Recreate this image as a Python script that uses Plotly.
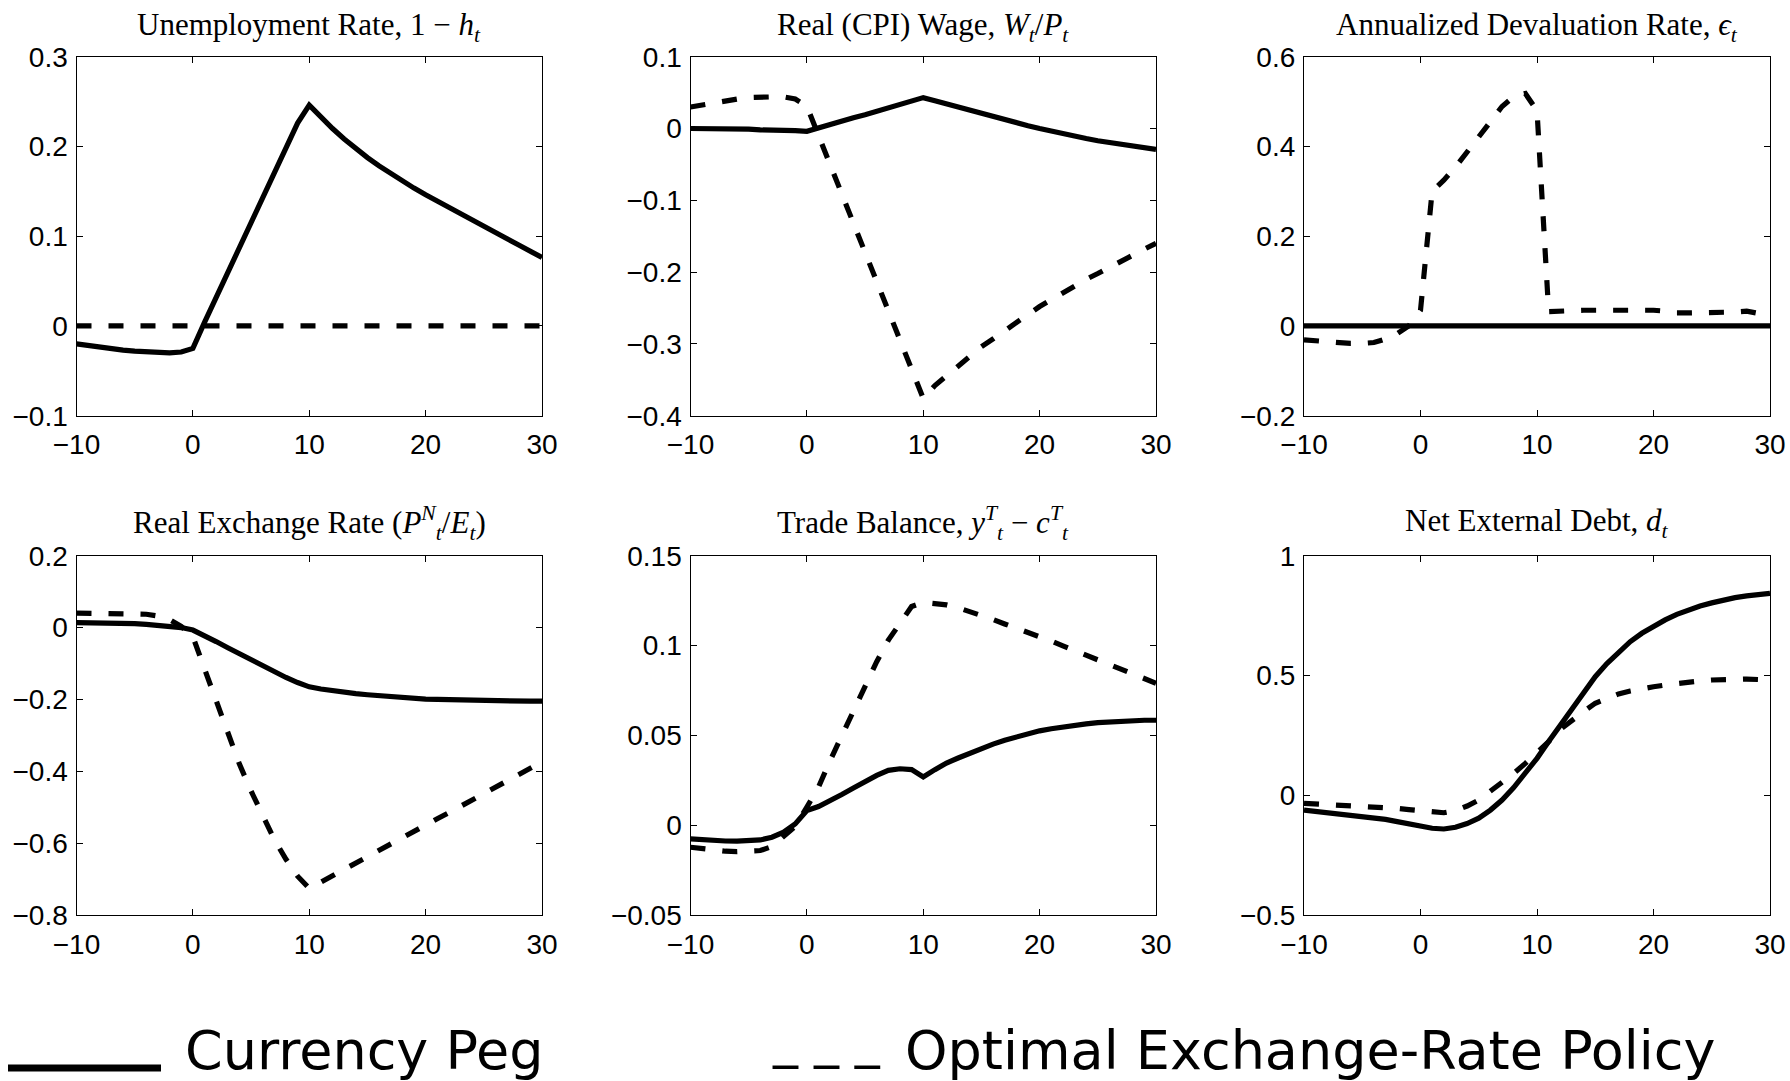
import plotly.graph_objects as go

# ---------------- data ----------------
t = list(range(-10, 31))

unemp_peg = [-0.020, -0.022, -0.024, -0.026, -0.027, -0.028, -0.029, -0.030, -0.030, -0.029,
             -0.025, 0.004, 0.032, 0.060, 0.088, 0.116, 0.144, 0.172, 0.200, 0.226,
             0.246, 0.2325, 0.2200, 0.2084, 0.1976, 0.1876, 0.1783, 0.1696, 0.1614, 0.1536,
             0.1461, 0.1389, 0.1318, 0.1248, 0.1179, 0.1110, 0.1041, 0.0972, 0.0902, 0.0832,
             0.0762]
unemp_opt = [0.0, 0.0, 0.0, 0.0, 0.0, 0.0, 0.0, 0.0, 0.0, 0.0,
             0.0, 0.0, 0.0, 0.0, 0.0, 0.0, 0.0, 0.0, 0.0, 0.0,
             0.0, 0.0, 0.0, 0.0, 0.0, 0.0, 0.0, 0.0, 0.0, 0.0,
             0.0, 0.0, 0.0, 0.0, 0.0, 0.0, 0.0, 0.0, 0.0, 0.0,
             0.0]

wage_peg = [0.000, 0.000, -0.001, -0.001, -0.001, -0.001, -0.002, -0.002, -0.003, -0.003,
            -0.004, 0.001, 0.005, 0.010, 0.015, 0.019, 0.024, 0.029, 0.034, 0.038,
            0.043, 0.0385, 0.0340, 0.0295, 0.0250, 0.0206, 0.0163, 0.0121, 0.0079, 0.0039,
            0.0000, -0.0038, -0.0074, -0.0108, -0.0140, -0.0170, -0.0197, -0.0222, -0.0246, -0.0268,
            -0.0290]
wage_opt = [0.030, 0.033, 0.036, 0.039, 0.041, 0.043, 0.044, 0.044, 0.044, 0.041,
            0.031, -0.010, -0.051, -0.092, -0.132, -0.173, -0.214, -0.254, -0.295, -0.336,
            -0.376, -0.358, -0.344, -0.330, -0.317, -0.304, -0.293, -0.281, -0.270, -0.259,
            -0.248, -0.238, -0.229, -0.219, -0.210, -0.202, -0.193, -0.185, -0.176, -0.168,
            -0.160]

deval_peg = [0.0, 0.0, 0.0, 0.0, 0.0, 0.0, 0.0, 0.0, 0.0, 0.0,
             0.0, 0.0, 0.0, 0.0, 0.0, 0.0, 0.0, 0.0, 0.0, 0.0,
             0.0, 0.0, 0.0, 0.0, 0.0, 0.0, 0.0, 0.0, 0.0, 0.0,
             0.0, 0.0, 0.0, 0.0, 0.0, 0.0, 0.0, 0.0, 0.0, 0.0,
             0.0]
deval_opt = [-0.031, -0.033, -0.036, -0.038, -0.039, -0.039, -0.037, -0.029, -0.017, 0.000,
             0.035, 0.300, 0.325, 0.354, 0.389, 0.423, 0.455, 0.489, 0.511, 0.518,
             0.480, 0.032, 0.034, 0.034, 0.035, 0.035, 0.036, 0.036, 0.036, 0.036,
             0.035, 0.033, 0.029, 0.029, 0.029, 0.029, 0.030, 0.031, 0.033, 0.028,
             0.027]

rer_peg = [0.014, 0.014, 0.013, 0.013, 0.012, 0.011, 0.009, 0.007, 0.004, 0.000,
           -0.007, -0.022, -0.039, -0.056, -0.073, -0.091, -0.108, -0.124, -0.139, -0.153,
           -0.165, -0.171, -0.176, -0.180, -0.184, -0.187, -0.190, -0.193, -0.195, -0.197,
           -0.199, -0.200, -0.201, -0.202, -0.203, -0.204, -0.205, -0.205, -0.205, -0.205,
           -0.205]
rer_opt = [0.040, 0.040, 0.040, 0.040, 0.039, 0.039, 0.037, 0.032, 0.022, 0.003,
           -0.025, -0.115, -0.205, -0.295, -0.380, -0.455, -0.525, -0.590, -0.645, -0.692,
           -0.726, -0.708, -0.691, -0.673, -0.656, -0.638, -0.620, -0.603, -0.585, -0.568,
           -0.550, -0.532, -0.515, -0.497, -0.480, -0.462, -0.444, -0.427, -0.409, -0.392,
           -0.374]

tb_peg = [-0.0076, -0.0082, -0.0086, -0.0088, -0.0089, -0.0088, -0.0082, -0.0067, -0.0039, 0.0007,
          0.0082, 0.0104, 0.0134, 0.0171, 0.0207, 0.0246, 0.0277, 0.0305, 0.0314, 0.0309,
          0.0268, 0.0309, 0.0346, 0.0374, 0.0401, 0.0426, 0.0451, 0.0473, 0.0492, 0.0510,
          0.0525, 0.0537, 0.0548, 0.0556, 0.0564, 0.0571, 0.0576, 0.0580, 0.0582, 0.0584,
          0.0584]
tb_opt = [-0.0123, -0.0132, -0.0140, -0.0145, -0.0147, -0.0146, -0.0141, -0.0119, -0.0067, -0.0007,
          0.0100, 0.0212, 0.0360, 0.0500, 0.0640, 0.0770, 0.0910, 0.1030, 0.1130, 0.1217,
          0.1240, 0.1235, 0.1226, 0.1210, 0.1190, 0.1170, 0.1145, 0.1120, 0.1098, 0.1075,
          0.1050, 0.1025, 0.0998, 0.0972, 0.0946, 0.0920, 0.0894, 0.0868, 0.0842, 0.0817,
          0.0790]

debt_peg = [-0.062, -0.067, -0.073, -0.079, -0.084, -0.089, -0.095, -0.101, -0.110, -0.119,
            -0.128, -0.138, -0.141, -0.134, -0.118, -0.096, -0.062, -0.020, 0.032, 0.091,
            0.154, 0.224, 0.293, 0.363, 0.432, 0.495, 0.550, 0.599, 0.641, 0.676,
            0.706, 0.732, 0.755, 0.774, 0.790, 0.803, 0.815, 0.825, 0.832, 0.838,
            0.843]
debt_opt = [-0.034, -0.036, -0.038, -0.040, -0.043, -0.045, -0.048, -0.051, -0.055, -0.060,
            -0.064, -0.071, -0.073, -0.064, -0.045, -0.020, 0.015, 0.053, 0.091, 0.133,
            0.175, 0.224, 0.275, 0.314, 0.349, 0.384, 0.405, 0.423, 0.435, 0.446,
            0.453, 0.460, 0.467, 0.472, 0.477, 0.481, 0.484, 0.485, 0.485, 0.483,
            0.481]

titles = [
    "Unemployment Rate, 1 \u2212 <i>h</i><sub><i>t</i></sub>",
    "Real (CPI) Wage, <i>W</i><sub><i>t</i></sub>/<i>P</i><sub><i>t</i></sub>",
    "Annualized Devaluation Rate, <i>\u03f5</i><sub><i>t</i></sub>",
    "Real Exchange Rate (<i>P</i><sup><i>N</i></sup><sub><i>t</i></sub>/<i>E</i><sub><i>t</i></sub>)",
    "Trade Balance, <i>y</i><sup><i>T</i></sup><sub><i>t</i></sub> \u2212 <i>c</i><sup><i>T</i></sup><sub><i>t</i></sub>",
    "Net External Debt, <i>d</i><sub><i>t</i></sub>",
]

x_ticks = [-10, 0, 10, 20, 30]
x_ticktext = ["\u221210", "0", "10", "20", "30"]

y_ranges = [[-0.1, 0.3], [-0.4, 0.1], [-0.2, 0.6], [-0.8, 0.2], [-0.05, 0.15], [-0.5, 1.0]]
y_ticks = [
    [-0.1, 0.0, 0.1, 0.2, 0.3],
    [-0.4, -0.3, -0.2, -0.1, 0.0, 0.1],
    [-0.2, 0.0, 0.2, 0.4, 0.6],
    [-0.8, -0.6, -0.4, -0.2, 0.0, 0.2],
    [-0.05, 0.0, 0.05, 0.1, 0.15],
    [-0.5, 0.0, 0.5, 1.0],
]
y_ticktext = [
    ["\u22120.1", "0", "0.1", "0.2", "0.3"],
    ["\u22120.4", "\u22120.3", "\u22120.2", "\u22120.1", "0", "0.1"],
    ["\u22120.2", "0", "0.2", "0.4", "0.6"],
    ["\u22120.8", "\u22120.6", "\u22120.4", "\u22120.2", "0", "0.2"],
    ["\u22120.05", "0", "0.05", "0.1", "0.15"],
    ["\u22120.5", "0", "0.5", "1"],
]

legend_labels = ["Currency Peg", "Optimal Exchange-Rate Policy"]
legend_dash_text = "_ _ _"

peg_series = [unemp_peg, wage_peg, deval_peg, rer_peg, tb_peg, debt_peg]
opt_series = [unemp_opt, wage_opt, deval_opt, rer_opt, tb_opt, debt_opt]

# ---------------- layout geometry ----------------
W, H = 1790, 1081
x_doms = [[76.5 / W, 542 / W], [690.5 / W, 1156 / W], [1304 / W, 1770 / W]]
y_doms = [[1 - 415.7 / H, 1 - 56.7 / H], [1 - 915 / H, 1 - 555.7 / H]]
title_shift = [30, 33]

LW = 5.2
DASH = "15px,17px"
tick_font = dict(family="Liberation Sans, Arial, sans-serif", size=28, color="black")
title_font = dict(family="Liberation Serif, Times New Roman, serif", size=31, color="black")

fig = go.Figure()
layout = dict(
    template="none",
    width=W, height=H,
    margin=dict(l=0, r=0, t=0, b=0, pad=0, autoexpand=False),
    paper_bgcolor="white", plot_bgcolor="white",
    showlegend=False,
)
annotations = []

for i in range(6):
    r, c = divmod(i, 3)
    n = i + 1
    xa = "x" if n == 1 else f"x{n}"
    ya = "y" if n == 1 else f"y{n}"
    fig.add_trace(go.Scatter(x=t, y=opt_series[i], mode="lines", xaxis=xa, yaxis=ya,
                             line=dict(color="black", width=LW, dash=DASH),
                             name=legend_labels[1]))
    fig.add_trace(go.Scatter(x=t, y=peg_series[i], mode="lines", xaxis=xa, yaxis=ya,
                             line=dict(color="black", width=LW),
                             name=legend_labels[0]))
    common = dict(showline=True, linecolor="black", linewidth=1.3, mirror="ticks",
                  ticks="inside", ticklen=6, tickwidth=1.2, tickcolor="black",
                  showgrid=False, zeroline=False, tickfont=tick_font, automargin=False)
    layout["xaxis" if n == 1 else f"xaxis{n}"] = dict(
        domain=x_doms[c], anchor=ya, range=[-10, 30],
        tickmode="array", tickvals=x_ticks, ticktext=x_ticktext,
        ticklabelstandoff=4, **common)
    layout["yaxis" if n == 1 else f"yaxis{n}"] = dict(
        domain=y_doms[r], anchor=xa, range=y_ranges[i],
        tickmode="array", tickvals=y_ticks[i], ticktext=y_ticktext[i],
        ticklabelstandoff=2, **common)
    annotations.append(dict(
        text=titles[i], xref=f"{xa} domain", yref=f"{ya} domain",
        x=0.5, y=1.0, xanchor="center", yanchor="middle", yshift=title_shift[r],
        showarrow=False, font=title_font))

legend_font = dict(family="DejaVu Sans, sans-serif", size=54, color="black")
annotations.append(dict(text=legend_labels[0], xref="paper", yref="paper",
                        x=183 / W, y=1 - 1050 / H, xanchor="left", yanchor="middle",
                        showarrow=False, font=legend_font))
annotations.append(dict(text=legend_dash_text, xref="paper", yref="paper",
                        x=770 / W, y=1 - 1040 / H, xanchor="left", yanchor="middle",
                        showarrow=False, font=dict(family="DejaVu Sans, sans-serif", size=50,
                                                   color="black")))
annotations.append(dict(text=legend_labels[1], xref="paper", yref="paper",
                        x=903 / W, y=1 - 1050 / H, xanchor="left", yanchor="middle",
                        showarrow=False, font=legend_font))

layout["annotations"] = annotations
layout["shapes"] = [dict(type="line", xref="paper", yref="paper",
                         x0=8 / W, x1=161 / W, y0=1 - 1068 / H, y1=1 - 1068 / H,
                         line=dict(color="black", width=7))]

fig.update_layout(**layout)
fig.write_html("out.html")
